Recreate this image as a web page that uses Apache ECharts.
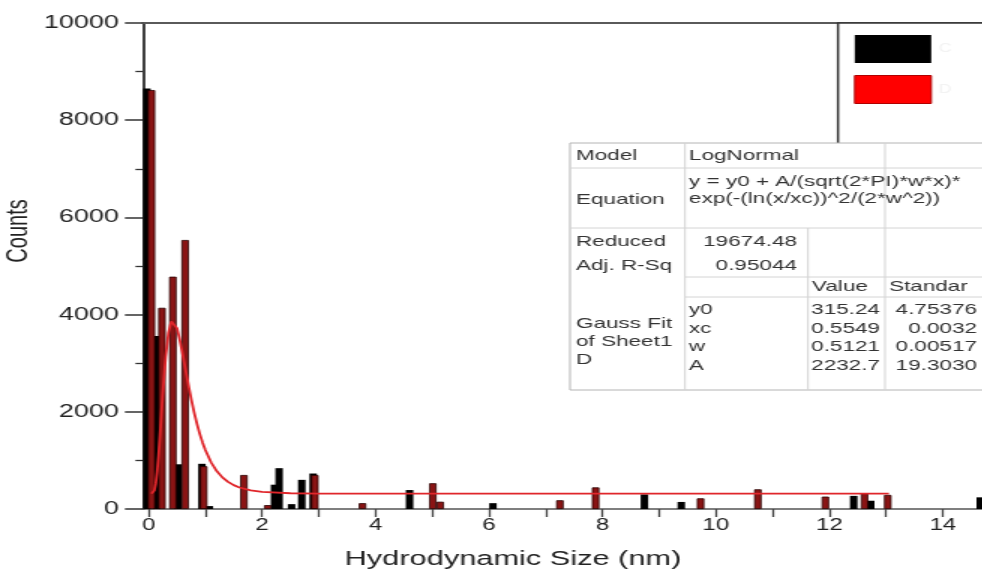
<!DOCTYPE html>
<html><head><meta charset="utf-8">
<script src="https://cdn.jsdelivr.net/npm/echarts@6/dist/echarts.min.js"></script>
<style>
html,body{margin:0;padding:0;overflow:hidden;background:#fff;width:982px;height:581px}
#wrap{width:982px;height:581px;overflow:hidden;position:relative;background:#fff}
#c{width:655px;height:581px;transform:scaleX(1.5);transform-origin:0 0;position:absolute;left:0;top:0}
</style>
</head><body><div id="wrap"><div id="c"></div></div>
<script>
// ---- data ----
const blackX = [-0.03, 0.14, 0.52, 0.94, 1.07, 2.22, 2.30, 2.52, 2.70, 2.90, 4.60, 6.07, 8.74, 9.39, 12.43, 12.73, 14.66];
const blackY = [8650, 3560, 920, 930, 60, 500, 840, 100, 600, 730, 390, 120, 300, 145, 270, 170, 240];
const redX = [0.05, 0.235, 0.427, 0.644, 0.97, 1.68, 2.10, 2.93, 3.77, 5.01, 5.14, 7.25, 7.88, 9.73, 10.74, 11.93, 12.62, 13.03];
const redY = [8620, 4140, 4780, 5535, 880, 700, 80, 700, 120, 530, 150, 180, 445, 220, 405, 255, 320, 290];
const fitX = [0.05, 0.075, 0.1, 0.125, 0.15, 0.175, 0.2, 0.225, 0.25, 0.3, 0.35, 0.4, 0.45, 0.5, 0.55, 0.6, 0.65, 0.7, 0.75, 0.8, 0.85, 0.9, 0.95, 1.0, 1.1, 1.2, 1.3, 1.4, 1.5, 1.6, 1.8, 2.0, 2.5, 3.0, 4.0, 6.0, 8.0, 10.0, 13.05];
const fitY = [316, 326, 379, 516, 759, 1100, 1509, 1950, 2385, 3133, 3629, 3859, 3870, 3722, 3477, 3180, 2866, 2557, 2266, 2000, 1762, 1552, 1370, 1213, 962, 781, 651, 558, 491, 443, 384, 353, 324, 318, 316, 315, 315, 315, 315];
const yTickVals = [0, 2000, 4000, 6000, 8000, 10000];
const yTickLabels = ['0', '2000', '4000', '6000', '8000', '10000'];
const xTickVals = [0,1,2,3,4,5,6,7,8,9,10,11,12,13,14];
const xLabelVals = [0,2,4,6,8,10,12,14];
const legendNames = ['C', 'D'];
const tableRows = [
  ['Model', 'LogNormal'],
  ['Equation', 'y = y0 + A/(sqrt(2*PI)*w*x)*', 'exp(-(ln(x/xc))^2/(2*w^2))'],
  ['Reduced', '19674.48'],
  ['Adj. R-Sq', '0.95044'],
];
const paramHead = ['Value', 'Standar'];
const paramNames = ['y0', 'xc', 'w', 'A'];
const paramValues = ['315.24', '0.5549', '0.5121', '2232.7'];
const paramErrors = ['4.75376', '0.0032', '0.00517', '19.3030'];
const groupLabel = ['Gauss Fit', 'of Sheet1', 'D'];

// ---- layout (reference px; horizontal divided by stretch S) ----
const S = 1.5;
const X = v => v / S;
const FONT = 'Liberation Sans, Arial, sans-serif';
const tcol = '#333';
function txt(x, y, s, align) {
  return {type:'text', x:X(x), y:y, z:101, style:{text:s, fill:tcol, font:'15px ' + FONT, textAlign:align||'left', textVerticalAlign:'middle'}};
}
function ln(x1,y1,x2,y2,c){
  return {type:'line', z:101, shape:{x1:X(x1),y1:y1,x2:X(x2),y2:y2}, style:{stroke:c||'#d4d4d4', lineWidth:1}};
}
const L=570, C2=685, C3=808, C4=885, R=1010, T=143, B=390;
const tableEls = [
  {type:'rect', z:100, shape:{x:X(L), y:T, width:X(R)-X(L), height:B-T}, style:{fill:'#fff', stroke:'#b4b4b4', lineWidth:1}},
  ln(L,168,R,168), ln(L,228,R,228), ln(C2,277,R,277), ln(C2,297,R,297),
  ln(C2,T,C2,B), ln(C3,228,C3,B), ln(C4,T,C4,B),
  txt(576,156,tableRows[0][0]), txt(689,156,tableRows[0][1]),
  txt(689,182,tableRows[1][1]), txt(689,199,tableRows[1][2]), txt(576,200,tableRows[1][0]),
  txt(576,242,tableRows[2][0]), txt(797,242,tableRows[2][1],'right'),
  txt(576,266,tableRows[3][0]), txt(797,266,tableRows[3][1],'right'),
  txt(812,287,paramHead[0]), txt(889,287,paramHead[1]),
  txt(576,324,groupLabel[0]), txt(576,342,groupLabel[1]), txt(576,360,groupLabel[2])
];
const rowY = [310, 329, 347, 366];
paramNames.forEach((n,i)=>{
  tableEls.push(txt(689,rowY[i],n));
  tableEls.push(txt(880,rowY[i],paramValues[i],'right'));
  tableEls.push(txt(977,rowY[i],paramErrors[i],'right'));
});

const chart = echarts.init(document.getElementById('c'), null, {renderer:'canvas'});
chart.setOption({
  animation:false,
  backgroundColor:'#fff',
  textStyle:{fontFamily:FONT},
  grid:{left:95.3, right:0, top:23, bottom:72},
  title:{text:'Hydrodynamic Size (nm)', left:337, top:544, textAlign:'center',
    textStyle:{fontSize:20.5, fontWeight:'normal', color:'#222', fontFamily:FONT}},
  legend:{
    data:[{name:legendNames[0], itemStyle:{color:'#000'}},
          {name:legendNames[1], itemStyle:{color:'#ff0000', borderColor:'#b00000', borderWidth:1}}],
    orient:'vertical', left:X(838), top:23, icon:'rect',
    itemWidth:51, itemHeight:28, itemGap:12,
    padding:[12,60,45,X(854)-X(838)],
    borderColor:'#333', borderWidth:1.5, backgroundColor:'#fff',
    selectedMode:false,
    textStyle:{color:'#f3f3f3', fontSize:12}
  },
  xAxis:[{
    type:'value', min:-0.1, max:14.7,
    axisLine:{show:true, onZero:false, lineStyle:{color:'#555', width:1.5}},
    axisTick:{show:true, inside:false, customValues:xTickVals, length:8, lineStyle:{color:'#444', width:1.3}},
    axisLabel:{customValues:xLabelVals, fontSize:16, color:'#222', margin:9, fontFamily:FONT},
    splitLine:{show:false}
  },{
    type:'value', min:-0.1, max:14.7, position:'top',
    axisLine:{show:true, onZero:false, lineStyle:{color:'#5a5a5a', width:2}},
    axisTick:{show:false}, axisLabel:{show:false}, splitLine:{show:false}
  }],
  yAxis:{
    type:'value', min:0, max:10000, interval:2000,
    axisLine:{show:true, onZero:false, lineStyle:{color:'#000', width:1.5}},
    axisTick:{show:true, inside:false, length:12, lineStyle:{color:'#333', width:1.5}},
    minorTick:{show:true, splitNumber:2, length:5, lineStyle:{color:'#333', width:1.3}},
    axisLabel:{fontSize:18, color:'#222', margin:16, fontFamily:FONT,
      formatter: v => yTickLabels[yTickVals.indexOf(v)] || ''},
    splitLine:{show:false}
  },
  graphic:[
    {type:'text', x:12, y:231, rotation:Math.PI/2, z:50,
     style:{text:'Counts', fill:'#222', font:'20px ' + FONT, textAlign:'center', textVerticalAlign:'middle'}}
  ].concat(tableEls),
  series:[
    {name:legendNames[0], type:'bar', barWidth:5, barGap:'-100%',
     data:blackX.map((x,i)=>[x, blackY[i]]),
     itemStyle:{color:'#000', borderColor:'#000', borderWidth:0}},
    {name:legendNames[1], type:'bar', barWidth:5, barGap:'-100%',
     data:redX.map((x,i)=>[x, redY[i]]),
     itemStyle:{color:'#8a1414', borderColor:'#2a0000', borderWidth:0.8}},
    {name:'fit', type:'line', showSymbol:false, smooth:false, z:5,
     data:fitX.map((x,i)=>[x, fitY[i]]),
     lineStyle:{color:'#e0262b', width:1.8}}
  ]
});
</script>
</body></html>
